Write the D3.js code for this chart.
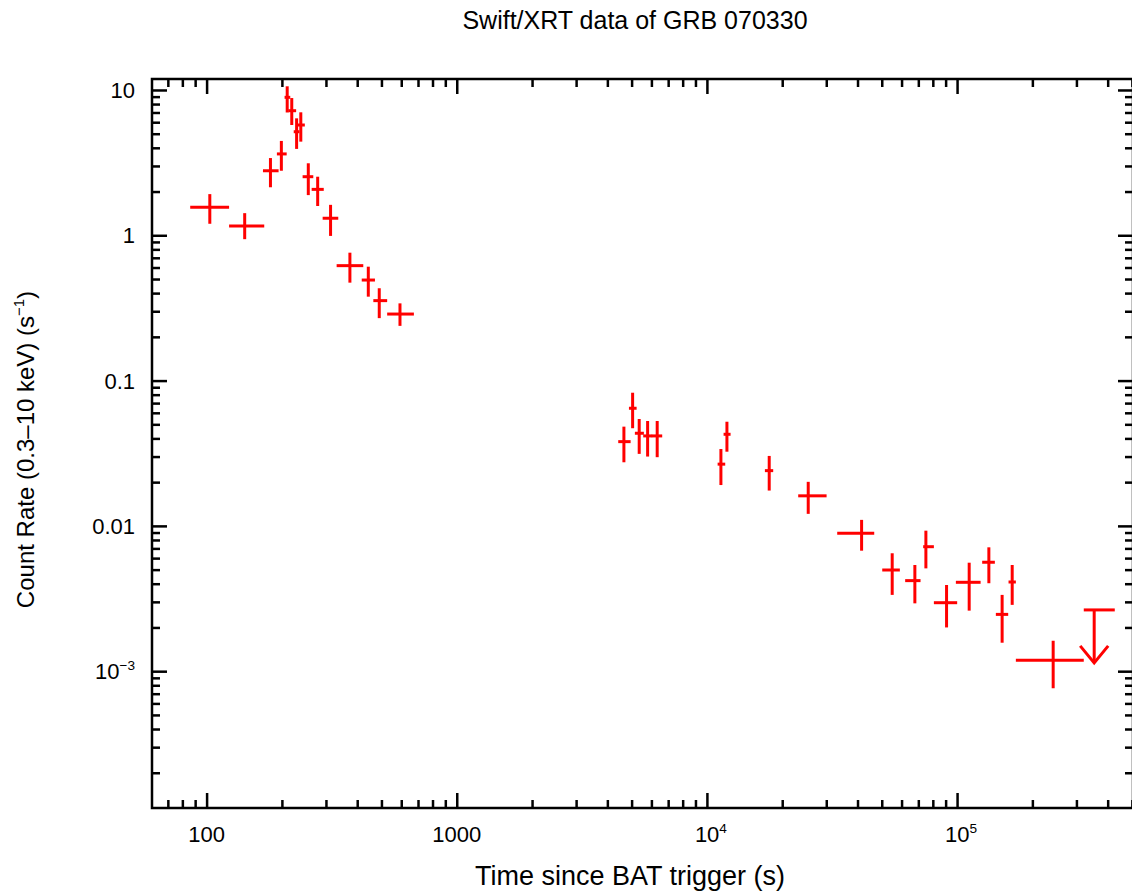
<!DOCTYPE html>
<html>
<head>
<meta charset="utf-8">
<script src="https://cdn.jsdelivr.net/npm/d3@7"></script>
<style>
  body { margin: 0; background: #fff; overflow: hidden; }
  svg { display: block; }
  text { font-family: "Liberation Sans", Arial, Helvetica, sans-serif; fill: #000; }
</style>
</head>
<body>
<div id="chart"></div>
<script>
'use strict';

// Light curve bins: time since trigger (s) with bin edges
const times    = [103, 142, 180, 199, 210, 219, 229, 238, 255, 278, 313, 374, 443, 490, 593,
                  4658, 5047, 5362, 5794, 6328, 11375, 12023, 17744, 25410, 41530,
                  55040, 67810, 75050, 90780, 111800, 134000, 151400, 166100, 242200];
const timesLo  = [86, 123, 168, 191, 205, 212, 223, 230, 242, 263, 291, 331, 417, 464, 527,
                  4421, 4879, 5153, 5564, 6012, 11036, 11659, 17053, 23170, 33180,
                  50220, 62020, 73200, 80780, 98900, 126000, 142900, 160600, 171800];
const timesHi  = [123, 170, 194, 209, 216, 228, 235, 247, 267, 294, 336, 423, 471, 527, 674,
                  4955, 5236, 5598, 6043, 6627, 11836, 12434, 18408, 30090, 46650,
                  59060, 71450, 80780, 100090, 124200, 141600, 160100, 171800, 321000];

// Count rate (s^-1) with error range
const rates    = [1.56, 1.16, 2.78, 3.63, 8.9, 7.2, 5.16, 5.74, 2.53, 2.07, 1.31, 0.618, 0.492, 0.355, 0.287,
                  0.0380, 0.0645, 0.0434, 0.0416, 0.0416, 0.0266, 0.0427, 0.0240, 0.0161, 0.00889,
                  0.00497, 0.00420, 0.00719, 0.00296, 0.00409, 0.00562, 0.00246, 0.00411, 0.00119];
const ratesLo  = [1.20, 0.94, 2.14, 2.78, 7.0, 5.74, 3.93, 4.41, 1.89, 1.59, 0.99, 0.472, 0.378, 0.269, 0.238,
                  0.0274, 0.0470, 0.0313, 0.0300, 0.0297, 0.0191, 0.0324, 0.0175, 0.0121, 0.00675,
                  0.00335, 0.00293, 0.00510, 0.00200, 0.00261, 0.00403, 0.00157, 0.00286, 0.000763];
const ratesHi  = [1.92, 1.42, 3.40, 4.46, 10.6, 8.8, 6.38, 7.02, 3.13, 2.53, 1.62, 0.759, 0.608, 0.432, 0.340,
                  0.0482, 0.0825, 0.0544, 0.0527, 0.0527, 0.0338, 0.0521, 0.0303, 0.0201, 0.0110,
                  0.00648, 0.00538, 0.00927, 0.00392, 0.00558, 0.00712, 0.00335, 0.00538, 0.00162];

// Upper limit bin
const limitTime = [353300];
const limitTimeLo = [321000];
const limitTimeHi = [427000];
const limitRate = [0.00264];
const limitArrowTip = [0.00114];

// Axis ticks
const xMajorTicks = [100, 1000, 1e4, 1e5];
const xTickLabels = [['100'], ['1000'], ['10', '4'], ['10', '5']];
const yMajorTicks = [10, 1, 0.1, 0.01, 1e-3];
const yTickLabels = [['10'], ['1'], ['0.1'], ['0.01'], ['10', '\u22123']];

const width = 1132;
const height = 892;
// the right edge of the frame sits just outside the picture
const margin = {top: 79, right: -1, bottom: 84, left: 152};

const svg = d3.select('#chart')
  .append('svg')
  .attr('width', width)
  .attr('height', height);

const x = d3.scaleLog()
  .domain([60.5, 5.05e5])
  .range([margin.left, width - margin.right]);

const y = d3.scaleLog()
  .domain([1.144e-4, 11.9])
  .range([height - margin.bottom, margin.top]);

/**
 * Minor ticks (2..9 of each decade) inside a log domain.
 */
function minorTicks(scale) {
  const [lo, hi] = scale.domain();
  const out = [];
  for (let e = Math.floor(Math.log10(lo)); e <= Math.ceil(Math.log10(hi)); e++) {
    for (let m = 2; m <= 9; m++) {
      const v = m * Math.pow(10, e);
      if (v >= lo && v <= hi) out.push(v);
    }
  }
  return out;
}

const plotBottom = height - margin.bottom;
const plotRight = width - margin.right;

function drawAxis(axisFn, scale, transform, ticks, size) {
  const g = svg.append('g')
    .attr('transform', transform)
    .call(axisFn(scale).tickValues(ticks).tickSize(size).tickFormat(''));
  g.select('.domain').remove();
  g.selectAll('line').attr('stroke', '#000').attr('stroke-width', 2.5);
  g.selectAll('text').remove();
}

drawAxis(d3.axisBottom, x, `translate(0,${plotBottom})`, xMajorTicks, -15);
drawAxis(d3.axisBottom, x, `translate(0,${plotBottom})`, minorTicks(x), -8);
drawAxis(d3.axisTop, x, `translate(0,${margin.top})`, xMajorTicks, -15);
drawAxis(d3.axisTop, x, `translate(0,${margin.top})`, minorTicks(x), -8);
drawAxis(d3.axisLeft, y, `translate(${margin.left},0)`, yMajorTicks, -15);
drawAxis(d3.axisLeft, y, `translate(${margin.left},0)`, minorTicks(y), -8);
drawAxis(d3.axisRight, y, `translate(${plotRight},0)`, yMajorTicks, -15);
drawAxis(d3.axisRight, y, `translate(${plotRight},0)`, minorTicks(y), -8);

// frame
svg.append('rect')
  .attr('x', margin.left)
  .attr('y', margin.top)
  .attr('width', plotRight - margin.left)
  .attr('height', plotBottom - margin.top)
  .attr('fill', 'none')
  .attr('stroke', '#000')
  .attr('stroke-width', 2.5);

// tick labels
function addLabel(parts, px, py, anchor, size) {
  const t = svg.append('text')
    .attr('x', px)
    .attr('y', py)
    .attr('text-anchor', anchor)
    .attr('font-size', size);
  t.append('tspan').text(parts[0]);
  if (parts.length > 1) {
    t.append('tspan')
      .attr('dy', -size * 0.42)
      .attr('font-size', size * 0.62)
      .text(parts[1]);
  }
  return t;
}

xMajorTicks.forEach((v, i) => {
  const lbl = xTickLabels[i];
  addLabel(lbl, x(v) + (lbl.length > 1 ? 4 : 0), plotBottom + 34, 'middle', 22);
});

yMajorTicks.forEach((v, i) => {
  addLabel(yTickLabels[i], margin.left - 17, y(v) + 8, 'end', 22);
});

// title and axis titles
svg.append('text')
  .attr('x', 635)
  .attr('y', 29)
  .attr('text-anchor', 'middle')
  .attr('font-size', 25)
  .text('Swift/XRT data of GRB 070330');

svg.append('text')
  .attr('x', 630)
  .attr('y', 885)
  .attr('text-anchor', 'middle')
  .attr('font-size', 27)
  .text('Time since BAT trigger (s)');

const yTitle = svg.append('text')
  .attr('transform', `translate(34,${(margin.top + plotBottom) / 2 + 6}) rotate(-90)`)
  .attr('text-anchor', 'middle')
  .attr('font-size', 24);
yTitle.append('tspan').text('Count Rate (0.3\u201310 keV) (s');
yTitle.append('tspan').attr('dy', -10).attr('font-size', 15).text('\u22121');
yTitle.append('tspan').attr('dy', 10).text(')');

// data crosses
const red = '#ff0000';
const marks = svg.append('g')
  .attr('stroke', red)
  .attr('stroke-width', 3)
  .attr('fill', 'none');

times.forEach((t, i) => {
  marks.append('line')
    .attr('x1', x(timesLo[i])).attr('x2', x(timesHi[i]))
    .attr('y1', y(rates[i])).attr('y2', y(rates[i]));
  marks.append('line')
    .attr('x1', x(t)).attr('x2', x(t))
    .attr('y1', y(ratesLo[i])).attr('y2', y(ratesHi[i]));
});

// upper limit with arrow
limitTime.forEach((t, i) => {
  const cx = x(t);
  const top = y(limitRate[i]);
  const tip = y(limitArrowTip[i]);
  marks.append('line')
    .attr('x1', x(limitTimeLo[i])).attr('x2', x(limitTimeHi[i]))
    .attr('y1', top).attr('y2', top);
  marks.append('line')
    .attr('x1', cx).attr('x2', cx)
    .attr('y1', top).attr('y2', tip);
  marks.append('path')
    .attr('d', `M${cx - 14},${tip - 17}L${cx},${tip}L${cx + 14},${tip - 17}`);
});
</script>
</body>
</html>
